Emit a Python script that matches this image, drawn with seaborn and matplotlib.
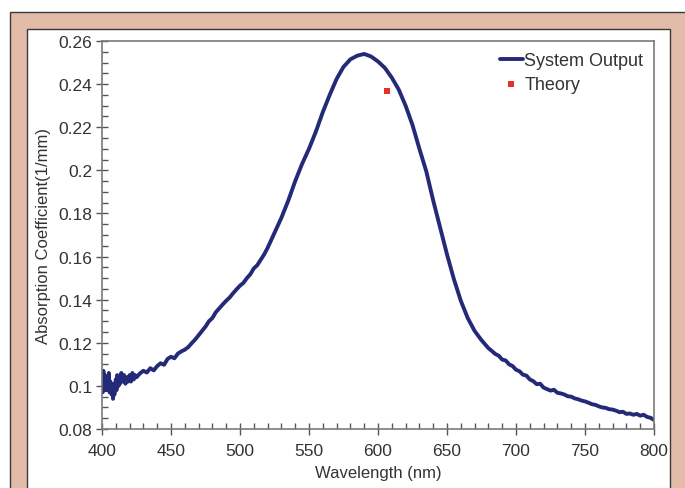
import matplotlib
matplotlib.use("Agg")
import matplotlib.pyplot as plt
from matplotlib.patches import Rectangle
from matplotlib.ticker import MultipleLocator, FuncFormatter
import seaborn as sns
import pandas as pd

wavelength = [400, 400.5, 401, 401.5, 402, 403, 403.5, 404, 405, 405.5, 406, 407, 407.5,
              408, 408.5, 409, 410, 410.5, 411, 412, 412.5, 413, 414, 415, 416, 417,
              418, 419, 420, 421, 422, 423, 424, 425,
              427.5, 430, 432.5, 435, 437.5, 440, 442.5, 445, 447.5, 450, 452.5, 455,
              457.5, 460, 462.5, 465, 467.5, 470, 472.5, 475, 477.5, 480, 482.5, 485,
              487.5, 490, 492.5, 495, 497.5, 500, 502.5, 505, 507.5, 510, 512.5, 515,
              517.5, 520, 525, 530, 535,
              540, 545, 550, 555, 560, 565, 570, 575, 580, 585, 590, 595, 600, 605,
              610, 615, 620, 625, 630, 635, 640, 645, 650, 655, 660, 665, 670, 675,
              680, 682.5, 685, 687.5, 690, 692.5, 695, 697.5, 700, 702.5, 705, 707.5,
              710, 712.5, 715, 717.5, 720, 722.5, 725, 727.5, 730, 732.5, 735, 737.5,
              740, 742.5, 745, 747.5, 750, 752.5, 755, 757.5, 760, 762.5, 765, 767.5,
              770, 772.5, 775, 777.5, 780, 782.5, 785, 787.5, 790, 792.5, 795, 797.5, 800]
absorption = [0.104, 0.097, 0.107, 0.099, 0.105, 0.098, 0.104, 0.100, 0.106, 0.097,
              0.102, 0.096, 0.101, 0.094, 0.099, 0.096, 0.103, 0.098, 0.105, 0.100,
              0.104, 0.101, 0.106, 0.102, 0.105, 0.101, 0.104, 0.102, 0.105, 0.102,
              0.106, 0.103, 0.105, 0.104,
              0.1058, 0.1070, 0.1062, 0.1082, 0.1072, 0.1092, 0.1105, 0.1098, 0.1125,
              0.1135, 0.1128, 0.1150, 0.1160, 0.1168, 0.1180, 0.1198, 0.1215, 0.1235,
              0.1255, 0.1275, 0.1300, 0.1315, 0.1342, 0.1360, 0.1378, 0.1395, 0.1410,
              0.1430, 0.1448, 0.1465, 0.1478, 0.1500, 0.1518, 0.1545, 0.1560, 0.1585,
              0.1610, 0.1640, 0.1710, 0.1780, 0.1860,
              0.1950, 0.2030, 0.2100, 0.2180, 0.2270, 0.2350, 0.2424, 0.2480,
              0.2515, 0.2532, 0.2540, 0.2528, 0.2505, 0.2475, 0.2430, 0.2375, 0.2300,
              0.2210, 0.2100, 0.1995, 0.1860, 0.1735, 0.1610, 0.1495, 0.1395, 0.1315,
              0.1255, 0.1212,
              0.1175, 0.1162, 0.1148, 0.1140, 0.1122, 0.1118, 0.1100, 0.1092, 0.1075,
              0.1068, 0.1052, 0.1048, 0.1030, 0.1022, 0.1008, 0.1010, 0.0992, 0.0985,
              0.0978, 0.0982, 0.0968, 0.0965, 0.0960, 0.0952, 0.0950, 0.0942, 0.0938,
              0.0932, 0.0928, 0.0922, 0.0915, 0.0912, 0.0905, 0.0900, 0.0898, 0.0892,
              0.0890, 0.0885, 0.0878, 0.0880, 0.0870, 0.0872, 0.0866, 0.0870, 0.0862,
              0.0866, 0.0856, 0.0852, 0.0842]

theory_wavelength = [606.5]
theory_absorption = [0.2367]

sns.set_style("ticks")
plt.rcParams["font.family"] = ["Liberation Sans", "DejaVu Sans"]

fig = plt.figure(figsize=(6.85, 4.89), dpi=100)
fig.patch.set_facecolor("white")

# decorative frame
fig.patches.append(Rectangle((10 / 685, -0.05), 1.0, 1 - 13 / 489 + 0.05,
                             transform=fig.transFigure, facecolor="#e2bba9",
                             edgecolor="#3a3a3a", linewidth=1.0, zorder=-10))
fig.patches.append(Rectangle((27 / 685, -0.05), (670 - 27) / 685, 1 - 30 / 489 + 0.05,
                             transform=fig.transFigure, facecolor="white",
                             edgecolor="#3a3a3a", linewidth=1.0, zorder=-9))

ax = fig.add_axes([102 / 685, 1 - 430 / 489, (654 - 102) / 685, (430 - 42) / 489])
ax.set_facecolor("none")

df = pd.DataFrame({"Wavelength": wavelength, "Absorption": absorption})
dft = pd.DataFrame({"Wavelength": theory_wavelength, "Absorption": theory_absorption})

sns.lineplot(data=df, x="Wavelength", y="Absorption", ax=ax, color="#252a78",
             linewidth=2.8, label="System Output", sort=False)
sns.scatterplot(data=dft, x="Wavelength", y="Absorption", ax=ax, color="#e8302a",
                marker="s", s=14, linewidth=0, label="Theory")

ax.set_xlim(400, 800)
ax.set_ylim(0.08, 0.26)
ax.xaxis.set_major_locator(MultipleLocator(50))
ax.xaxis.set_minor_locator(MultipleLocator(10))
ax.yaxis.set_major_locator(MultipleLocator(0.02))
ax.yaxis.set_minor_locator(MultipleLocator(0.005))
ax.yaxis.set_major_formatter(FuncFormatter(lambda v, p: f"{v:.2f}".rstrip("0").rstrip(".")))

for s in ax.spines.values():
    s.set_color("#7a7a7a")
    s.set_linewidth(1.2)
ax.tick_params(which="major", direction="inout", length=8, width=1, color="#555555",
               labelsize=12.5, labelcolor="#333333")
ax.tick_params(axis="x", which="major", pad=6)
ax.tick_params(axis="y", which="major", pad=3)
ax.tick_params(which="minor", direction="in", length=4, width=1, color="#555555")

ax.set_xlabel("Wavelength (nm)", fontsize=12, color="#333333", labelpad=5)
ax.set_ylabel("Absorption Coefficient(1/mm)", fontsize=12, color="#333333", labelpad=5)

leg = ax.legend(loc="upper right", bbox_to_anchor=(1.0, 1.0), frameon=False,
                fontsize=13, handlelength=1.28, handletextpad=0.08,
                borderaxespad=0.2, labelspacing=0.4, markerscale=1.0)
for t in leg.get_texts():
    t.set_color("#333333")

fig.savefig("out.png", dpi=100, facecolor="white")
